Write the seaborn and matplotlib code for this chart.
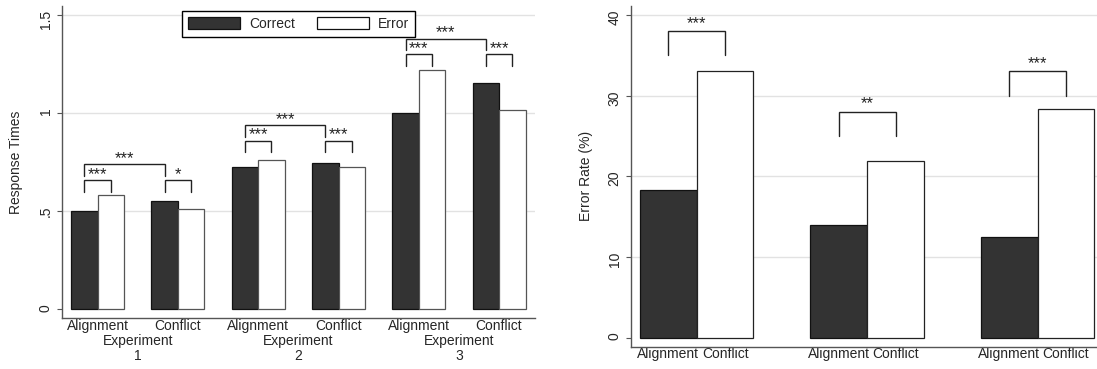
import matplotlib
matplotlib.use("Agg")
import matplotlib.pyplot as plt
import matplotlib.transforms as mtransforms
from matplotlib.patches import Patch
import numpy as np
import pandas as pd
import seaborn as sns

# ---- data -------------------------------------------------------------
experiments = ["1", "2", "3"]
conditions = ["Alignment", "Conflict"]
outcomes = ["Correct", "Error"]

# mean response times, ordered Exp1-Alignment, Exp1-Conflict, Exp2-..., Exp3-...
rt_correct = [0.500, 0.552, 0.724, 0.747, 1.000, 1.152]
rt_error = [0.583, 0.511, 0.759, 0.727, 1.221, 1.014]
rt_pair_stars = ["***", "*", "***", "***", "***", "***"]   # correct vs error
rt_cond_stars = ["***", "***", "***"]                      # alignment vs conflict
rt_bracket_base = [0.60, 0.80, 1.24]
rt_yticks = [0, 0.5, 1, 1.5]
rt_yticklabels = ["0", ".5", "1", "1.5"]

# error rates (%) per experiment
err_alignment = [18.3, 14.0, 12.5]
err_conflict = [33.1, 21.9, 28.3]
err_stars = ["***", "**", "***"]
err_bracket_base = [35, 25, 30]
err_yticks = [0, 10, 20, 30, 40]

# ---- style ------------------------------------------------------------
sns.set_style("white")
plt.rcParams["font.family"] = ["Liberation Sans", "DejaVu Sans"]
plt.rcParams["font.size"] = 10

DARK = "#333333"
EDGE_DARK = "#111111"
EDGE_LIGHT = "#555555"
SPINE = "#555555"
GRID = "#e2e2e2"

fig = plt.figure(figsize=(10.97, 3.69), dpi=100)
W, H = 1097, 369


def px_axes(x0, y0, x1, y1):
    return fig.add_axes([x0 / W, 1 - y1 / H, (x1 - x0) / W, (y1 - y0) / H])


ax1 = px_axes(62, 6, 535, 318.3)
ax2 = px_axes(630.7, 6, 1097, 346.7)


def style_axes(ax):
    for s in ("top", "right"):
        ax.spines[s].set_visible(False)
    for s in ("left", "bottom"):
        ax.spines[s].set_color(SPINE)
        ax.spines[s].set_linewidth(1.0)
    ax.set_axisbelow(True)
    ax.yaxis.grid(True, color=GRID, linewidth=1.0)
    ax.xaxis.grid(False)
    ax.tick_params(axis="y", left=True, length=3.6, width=0.8, color=SPINE,
                   labelrotation=90, pad=3, labelsize=10)
    ax.tick_params(axis="x", bottom=False, length=0, pad=0.5, labelsize=10)


# ---- left panel: response times ---------------------------------------
cells = [f"{e}|{c}" for e in experiments for c in conditions]
df_rt = pd.DataFrame({
    "cell": cells * 2,
    "outcome": ["Correct"] * len(cells) + ["Error"] * len(cells),
    "rt": rt_correct + rt_error,
})
sns.barplot(data=df_rt, x="cell", y="rt", hue="outcome", order=cells,
            hue_order=outcomes, palette={"Correct": DARK, "Error": "white"},
            width=0.66, gap=0, saturation=1, errorbar=None,
            linewidth=0.9, edgecolor=EDGE_DARK, legend=False, ax=ax1)
for bar in ax1.containers[1]:
    bar.set_edgecolor(EDGE_LIGHT)

style_axes(ax1)
ax1.set_xlim(-0.445, 5.448)
ax1.set_ylim(-0.046, 1.546)
ax1.set_yticks(rt_yticks, rt_yticklabels)
ax1.yaxis.get_gridlines()[0].set_visible(False)
ax1.set_xticks(range(len(cells)), [c.split("|")[1] for c in cells])
ax1.set_xlabel("")
ax1.set_ylabel("Response Times", fontsize=10)
ax1.yaxis.set_label_coords(-0.082, 0.5)

trans1 = mtransforms.blended_transform_factory(ax1.transData, ax1.transAxes)
for i, e in enumerate(experiments):
    xm = (2 * i + 2 * i + 1) / 2
    ax1.text(xm, -0.0855, "Experiment", transform=trans1, ha="center", va="baseline")
    ax1.text(xm, -0.1335, e, transform=trans1, ha="center", va="baseline")

c_x = [p.get_x() + p.get_width() / 2 for p in ax1.containers[0]]
e_x = [p.get_x() + p.get_width() / 2 for p in ax1.containers[1]]


def bracket(ax, x0, x1, y_low, y_top, stars, yoff, color="#222222", left_leg=None):
    ax.plot([x0, x0, x1, x1], [y_low if left_leg is None else left_leg, y_top, y_top, y_low],
            color=color, lw=1.0, solid_joinstyle="miter", zorder=3)
    ax.annotate(stars, xy=((x0 + x1) / 2, y_top), xytext=(0, yoff),
                textcoords="offset points", ha="center", va="baseline",
                fontsize=12, color="#222222")


for i in range(len(experiments)):
    b = rt_bracket_base[i]
    for j in (2 * i, 2 * i + 1):
        bracket(ax1, c_x[j], e_x[j], b, b + 0.06, rt_pair_stars[j], 0.8)
    bracket(ax1, c_x[2 * i], c_x[2 * i + 1], b + 0.08, b + 0.14,
            rt_cond_stars[i], 0.8)

handles = [Patch(facecolor=DARK, edgecolor=EDGE_DARK, linewidth=0.9),
           Patch(facecolor="white", edgecolor=EDGE_DARK, linewidth=0.9)]
leg = ax1.legend(handles, outcomes, loc="upper center",
                 bbox_to_anchor=(0.5, 1 - 5 / 312.3), borderaxespad=0,
                 ncol=2, frameon=True, fancybox=False, framealpha=1,
                 edgecolor="black", handlelength=3.74, handleheight=1.0,
                 handletextpad=0.63, columnspacing=1.6, borderpad=0.42,
                 fontsize=10)
leg.get_frame().set_linewidth(1.0)

# ---- right panel: error rates -----------------------------------------
df_err = pd.DataFrame({
    "experiment": experiments * 2,
    "condition": ["Alignment"] * 3 + ["Conflict"] * 3,
    "rate": err_alignment + err_conflict,
})
sns.barplot(data=df_err, x="experiment", y="rate", hue="condition",
            order=experiments, hue_order=conditions,
            palette={"Alignment": DARK, "Conflict": "white"},
            width=0.666, gap=0, saturation=1, errorbar=None,
            linewidth=0.9, edgecolor=EDGE_DARK, legend=False, ax=ax2)
for bar in ax2.containers[1]:
    bar.set_edgecolor("#222222")

style_axes(ax2)
ax2.set_xlim(-0.387, 2.348)
ax2.set_ylim(-1.115, 41.1)
ax2.set_yticks(err_yticks, [str(t) for t in err_yticks])
ax2.yaxis.get_gridlines()[0].set_visible(False)

a_x = [p.get_x() + p.get_width() / 2 for p in ax2.containers[0]]
k_x = [p.get_x() + p.get_width() / 2 for p in ax2.containers[1]]
ticks = []
labels = []
for a, k in zip(a_x, k_x):
    ticks += [a, k]
    labels += conditions
ax2.set_xticks(ticks, labels)
ax2.set_xlabel("")
ax2.set_ylabel("Error Rate (%)", fontsize=10)
ax2.yaxis.set_label_coords(-0.081, 0.5)

for i in range(len(experiments)):
    b = err_bracket_base[i]
    bracket(ax2, a_x[i], k_x[i], b, b + 3, err_stars[i], 2.3)

fig.savefig("out.png", dpi=100)
